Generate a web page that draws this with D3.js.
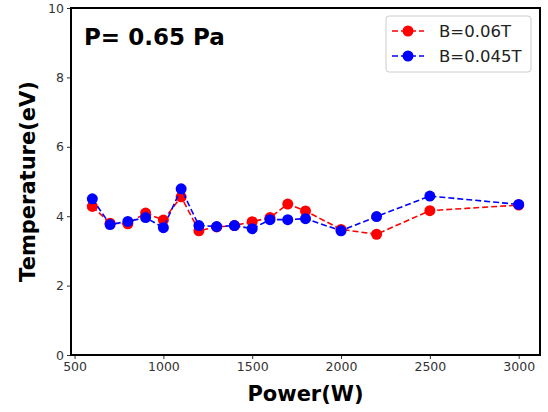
<!DOCTYPE html>
<html>
<head>
<meta charset="utf-8">
<script src="https://d3js.org/d3.v7.min.js"></script>
<style>
  body { margin: 0; background: #fff; }
  text { font-family: "DejaVu Sans", sans-serif; }
</style>
</head>
<body>
<div id="chart"></div>
<script>
// data
var power = [600, 700, 800, 900, 1000, 1100, 1200, 1300, 1400, 1500, 1600, 1700, 1800, 2000, 2200, 2500, 3000];
var tempB006 = [4.28, 3.8, 3.78, 4.09, 3.89, 4.56, 3.58, 3.69, 3.73, 3.84, 3.96, 4.35, 4.15, 3.62, 3.48, 4.16, 4.32];
var tempB0045 = [4.5, 3.76, 3.85, 3.96, 3.67, 4.79, 3.73, 3.7, 3.73, 3.64, 3.9, 3.9, 3.93, 3.58, 3.99, 4.58, 4.34];
var xTicks = [500, 1000, 1500, 2000, 2500, 3000];
var yTicks = [0, 2, 4, 6, 8, 10];

var series = [
  {name: "B=0.06T", color: "#ff0000", values: tempB006},
  {name: "B=0.045T", color: "#0000ff", values: tempB0045}
];

var W = 548, H = 412;
var margin = {top: 8, right: 8, bottom: 57, left: 71};
var width = W - margin.left - margin.right,
    height = H - margin.top - margin.bottom;

var svg = d3.select("#chart").append("svg")
  .attr("width", W).attr("height", H);
var g = svg.append("g")
  .attr("transform", "translate(" + margin.left + "," + margin.top + ")");

var x = d3.scaleLinear().domain([480, 3120]).range([0, width]);
var y = d3.scaleLinear().domain([0, 10]).range([height, 0]);

// axes
var xAxis = g.append("g")
  .attr("transform", "translate(0," + height + ")")
  .call(d3.axisBottom(x).tickValues(xTicks).tickFormat(d3.format("d")).tickSize(4).tickPadding(3));
var yAxis = g.append("g")
  .call(d3.axisLeft(y).tickValues(yTicks).tickFormat(d3.format("d")).tickSize(4).tickPadding(3));
[xAxis, yAxis].forEach(function(a) {
  a.select(".domain").remove();
  a.selectAll("line").attr("stroke", "#333");
  a.selectAll("text").attr("fill", "#333").style("font-size", "12.5px");
});

// lines and markers
var line = d3.line()
  .x(function(d, i) { return x(power[i]); })
  .y(function(d) { return y(d); });

series.forEach(function(s) {
  g.append("path")
    .datum(s.values)
    .attr("fill", "none")
    .attr("stroke", s.color)
    .attr("stroke-width", 1.6)
    .attr("stroke-dasharray", "6,3")
    .attr("d", line);
  g.selectAll(null)
    .data(s.values)
    .enter()
    .append("circle")
      .attr("cx", function(d, i) { return x(power[i]); })
      .attr("cy", function(d) { return y(d); })
      .attr("r", 5.5)
      .attr("fill", s.color);
});

// frame
g.append("rect")
  .attr("width", width).attr("height", height)
  .attr("fill", "none").attr("stroke", "#000").attr("stroke-width", 2);

// annotation
g.append("text")
  .attr("x", 13).attr("y", 37)
  .style("font-size", "23px").style("font-weight", "bold")
  .text("P= 0.65 Pa");

// legend
var lg = svg.append("g").attr("transform", "translate(386,16)");
lg.append("rect")
  .attr("width", 145).attr("height", 56).attr("rx", 3)
  .attr("fill", "#fff").attr("stroke", "#ccc");
series.forEach(function(s, i) {
  var yy = 15 + i * 25;
  lg.append("line")
    .attr("x1", 6).attr("x2", 38).attr("y1", yy).attr("y2", yy)
    .attr("stroke", s.color).attr("stroke-width", 1.6)
    .attr("stroke-dasharray", "6,3");
  lg.append("circle").attr("cx", 22).attr("cy", yy).attr("r", 5.5).attr("fill", s.color);
  lg.append("text")
    .attr("x", 53).attr("y", yy).attr("dy", "0.35em")
    .style("font-size", "16.5px").attr("fill", "#222")
    .text(s.name);
});

// axis titles
svg.append("text")
  .attr("x", margin.left + width / 2).attr("y", 401)
  .attr("text-anchor", "middle")
  .style("font-size", "21px").style("font-weight", "bold")
  .text("Power(W)");
svg.append("text")
  .attr("transform", "translate(35," + (margin.top + height / 2) + ")rotate(-90)")
  .attr("text-anchor", "middle")
  .style("font-size", "21px").style("font-weight", "bold")
  .text("Temperature(eV)");
</script>
</body>
</html>
